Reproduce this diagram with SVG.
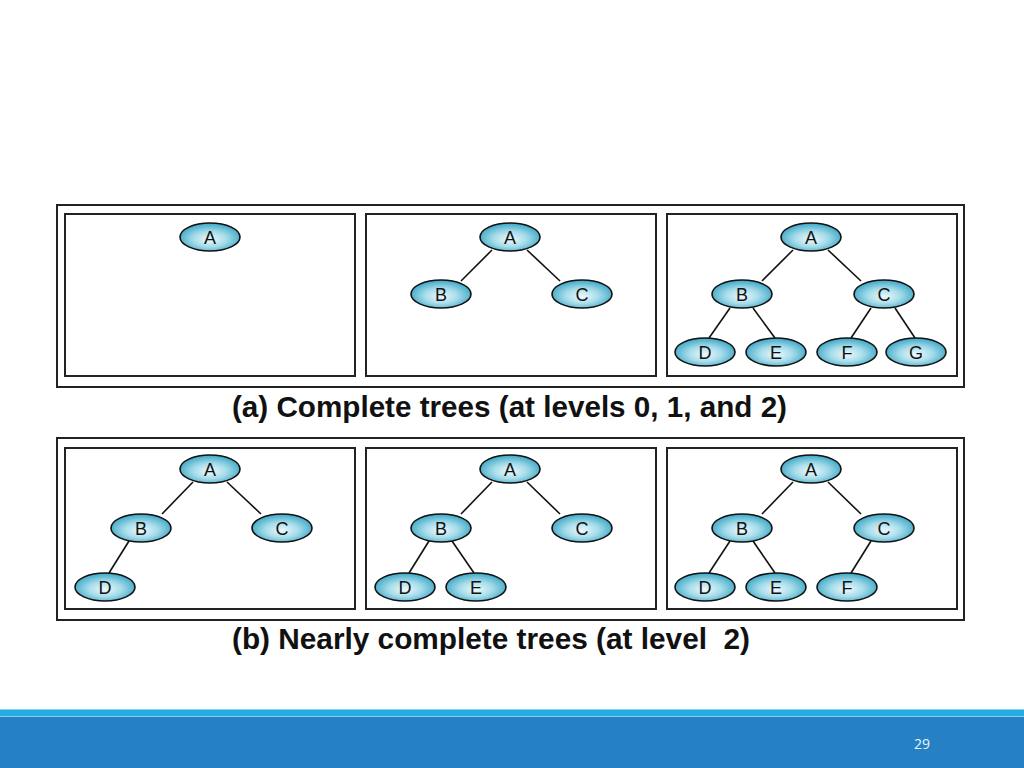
<svg xmlns="http://www.w3.org/2000/svg" width="1024" height="768" viewBox="0 0 1024 768">
<defs>
<radialGradient id="ng" cx="50%" cy="55%" r="55%" fx="50%" fy="60%">
<stop offset="0" stop-color="#eef9fc"/>
<stop offset="0.5" stop-color="#a6dcea"/>
<stop offset="1" stop-color="#3aa6c6"/>
</radialGradient>
<style>
.frame{fill:none;stroke:#222;stroke-width:2}
.panel{fill:#fff;stroke:#222;stroke-width:2}
.node ellipse{fill:url(#ng);stroke:#111;stroke-width:1.6}
.node text{font-family:"Liberation Sans",Arial,sans-serif;font-size:18px;fill:#111;text-anchor:middle}
.edges line{stroke:#111;stroke-width:1.6}
.cap{font-family:"Liberation Sans",Arial,sans-serif;font-size:29.5px;font-weight:bold;fill:#111;white-space:pre}
</style>
</defs>
<rect width="1024" height="768" fill="#fff"/>
<!-- footer -->
<rect x="0" y="709" width="1024" height="8" fill="#29abe2"/>
<line x1="0" y1="709.5" x2="1024" y2="709.5" stroke="#7fd3f2" stroke-width="1"/>
<line x1="0" y1="716.5" x2="1024" y2="716.5" stroke="#7fd3f2" stroke-width="1"/>
<rect x="0" y="717" width="1024" height="51" fill="#2581c4"/>
<text x="922" y="749" font-family="'Open Sans','Liberation Sans',sans-serif" font-size="14" fill="#e8f4fb" text-anchor="middle">29</text>

<!-- frames -->
<rect class="frame" x="57" y="205" width="907" height="182"/>
<rect class="panel" x="65" y="214" width="290" height="162"/>
<rect class="panel" x="366" y="214" width="290" height="162"/>
<rect class="panel" x="667" y="214" width="290" height="162"/>
<rect class="frame" x="57" y="438" width="907" height="182"/>
<rect class="panel" x="65" y="448" width="290" height="161"/>
<rect class="panel" x="366" y="448" width="290" height="161"/>
<rect class="panel" x="667" y="448" width="290" height="161"/>

<text class="cap" x="232" y="417" textLength="555" lengthAdjust="spacingAndGlyphs">(a) Complete trees (at levels 0, 1, and 2)</text>
<text class="cap" x="232" y="649" textLength="518" lengthAdjust="spacingAndGlyphs" xml:space="preserve">(b) Nearly complete trees (at level  2)</text>

<g class="edges">
<!-- a2 -->
<line x1="492" y1="250" x2="461" y2="281"/>
<line x1="527" y1="250" x2="560" y2="281"/>
<!-- a3 -->
<line x1="793" y1="250" x2="762" y2="281"/>
<line x1="828" y1="250" x2="861" y2="281"/>
<line x1="730" y1="308" x2="709" y2="338"/>
<line x1="753" y1="308" x2="775" y2="338"/>
<line x1="871" y1="308" x2="851" y2="338"/>
<line x1="895" y1="308" x2="915" y2="338"/>
<!-- b1 -->
<line x1="193" y1="482" x2="162" y2="514"/>
<line x1="227" y1="482" x2="261" y2="514"/>
<line x1="129" y1="541" x2="109" y2="573"/>
<!-- b2 -->
<line x1="492" y1="482" x2="461" y2="514"/>
<line x1="527" y1="482" x2="560" y2="514"/>
<line x1="429" y1="541" x2="409" y2="573"/>
<line x1="452" y1="541" x2="474" y2="573"/>
<!-- b3 -->
<line x1="793" y1="482" x2="762" y2="514"/>
<line x1="828" y1="482" x2="861" y2="514"/>
<line x1="730" y1="541" x2="709" y2="573"/>
<line x1="753" y1="541" x2="775" y2="573"/>
<line x1="871" y1="541" x2="851" y2="573"/>
</g>

<!-- a1 -->
<g id="a1-A" class="node"><ellipse cx="210" cy="237" rx="30" ry="14"/><text x="210" y="243.5">A</text></g>
<!-- a2 -->
<g id="a2-A" class="node"><ellipse cx="510" cy="237" rx="30" ry="14"/><text x="510" y="243.5">A</text></g>
<g id="a2-B" class="node"><ellipse cx="441" cy="294" rx="30" ry="14"/><text x="441" y="300.5">B</text></g>
<g id="a2-C" class="node"><ellipse cx="582" cy="294" rx="30" ry="14"/><text x="582" y="300.5">C</text></g>
<!-- a3 -->
<g id="a3-A" class="node"><ellipse cx="811" cy="237" rx="30" ry="14"/><text x="811" y="243.5">A</text></g>
<g id="a3-B" class="node"><ellipse cx="742" cy="294" rx="30" ry="14"/><text x="742" y="300.5">B</text></g>
<g id="a3-C" class="node"><ellipse cx="884" cy="294" rx="30" ry="14"/><text x="884" y="300.5">C</text></g>
<g id="a3-D" class="node"><ellipse cx="705" cy="352" rx="30" ry="14"/><text x="705" y="358.5">D</text></g>
<g id="a3-E" class="node"><ellipse cx="776" cy="352" rx="30" ry="14"/><text x="776" y="358.5">E</text></g>
<g id="a3-F" class="node"><ellipse cx="847" cy="352" rx="30" ry="14"/><text x="847" y="358.5">F</text></g>
<g id="a3-G" class="node"><ellipse cx="916" cy="352" rx="30" ry="14"/><text x="916" y="358.5">G</text></g>
<!-- b1 -->
<g id="b1-A" class="node"><ellipse cx="210" cy="469" rx="30" ry="14"/><text x="210" y="475.5">A</text></g>
<g id="b1-B" class="node"><ellipse cx="141" cy="528" rx="30" ry="14"/><text x="141" y="534.5">B</text></g>
<g id="b1-C" class="node"><ellipse cx="282" cy="528" rx="30" ry="14"/><text x="282" y="534.5">C</text></g>
<g id="b1-D" class="node"><ellipse cx="105" cy="587" rx="30" ry="14"/><text x="105" y="593.5">D</text></g>
<!-- b2 -->
<g id="b2-A" class="node"><ellipse cx="510" cy="469" rx="30" ry="14"/><text x="510" y="475.5">A</text></g>
<g id="b2-B" class="node"><ellipse cx="441" cy="528" rx="30" ry="14"/><text x="441" y="534.5">B</text></g>
<g id="b2-C" class="node"><ellipse cx="582" cy="528" rx="30" ry="14"/><text x="582" y="534.5">C</text></g>
<g id="b2-D" class="node"><ellipse cx="405" cy="587" rx="30" ry="14"/><text x="405" y="593.5">D</text></g>
<g id="b2-E" class="node"><ellipse cx="476" cy="587" rx="30" ry="14"/><text x="476" y="593.5">E</text></g>
<!-- b3 -->
<g id="b3-A" class="node"><ellipse cx="811" cy="469" rx="30" ry="14"/><text x="811" y="475.5">A</text></g>
<g id="b3-B" class="node"><ellipse cx="742" cy="528" rx="30" ry="14"/><text x="742" y="534.5">B</text></g>
<g id="b3-C" class="node"><ellipse cx="884" cy="528" rx="30" ry="14"/><text x="884" y="534.5">C</text></g>
<g id="b3-D" class="node"><ellipse cx="705" cy="587" rx="30" ry="14"/><text x="705" y="593.5">D</text></g>
<g id="b3-E" class="node"><ellipse cx="776" cy="587" rx="30" ry="14"/><text x="776" y="593.5">E</text></g>
<g id="b3-F" class="node"><ellipse cx="847" cy="587" rx="30" ry="14"/><text x="847" y="593.5">F</text></g>
</svg>
